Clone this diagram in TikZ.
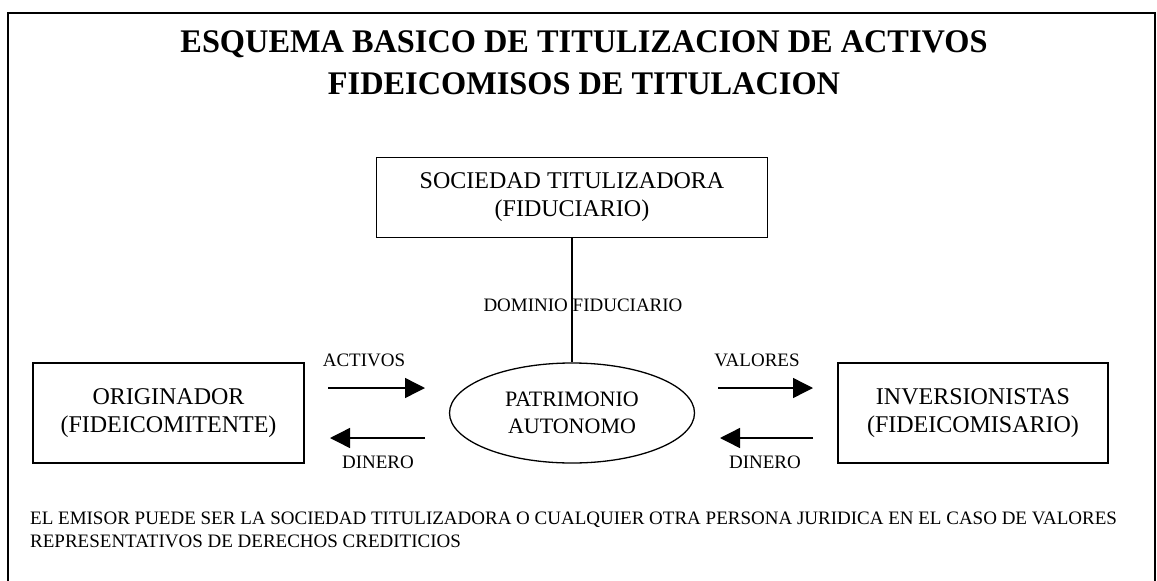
\documentclass[tikz,border=0pt]{standalone}
\usepackage{fontspec}
\setmainfont{Liberation Serif}
\usetikzlibrary{shapes.geometric,arrows.meta}
\tikzset{
  boxed/.style={draw, line width=1.6pt, minimum width=#1, minimum height=100pt, inner sep=0pt, align=center, font=\fontsize{24}{28}\selectfont},
  lbl/.style={inner sep=0pt, font=\fontsize{19}{22}\selectfont},
  flow/.style={line width=1.4pt, -{Triangle[length=20pt,width=20pt]}},
  ttl/.style={inner sep=0pt, font=\bfseries\fontsize{33}{40}\selectfont, xscale=0.98},
  foot/.style={inner sep=0pt, anchor=west, font=\fontsize{19}{21}\selectfont},
}
\begin{document}
\begin{tikzpicture}[x=1pt,y=-1pt]
\useasboundingbox (0,0) rectangle (1157,581);
% frame
\draw[line width=1.6pt] (8,581) -- (8,13) -- (1155,13) -- (1155,581);
% title
\node[ttl] (t1) at (584,44) {ESQUEMA BASICO DE TITULIZACION DE ACTIVOS};
\node[ttl] (t2) at (584,84) {FIDEICOMISOS DE TITULACION};
% boxes
\node[boxed=391pt, minimum height=80pt] (soc) at (572,197.5) {SOCIEDAD TITULIZADORA\\(FIDUCIARIO)};
\node[boxed=271pt] (ori) at (168.5,413) {ORIGINADOR\\(FIDEICOMITENTE)};
\node[boxed=270pt] (inv) at (973,413) {INVERSIONISTAS\\(FIDEICOMISARIO)};
\node[draw, ellipse, line width=1.3pt, minimum width=245pt, minimum height=100pt, inner sep=0pt, align=center, font=\fontsize{22}{27}\selectfont] (pat) at (572,413) {PATRIMONIO\\AUTONOMO};
% domain label and line
\node[lbl] (dom) at (583,305) {DOMINIO FIDUCIARIO};
\draw[line width=1.2pt] (soc.south -| pat.north) -- (pat.north);
% arrows
\coordinate (a1s) at (328,388); \coordinate (a1e) at (425,388);
\coordinate (a2s) at (425,438); \coordinate (a2e) at (330,438);
\coordinate (a3s) at (718,388); \coordinate (a3e) at (813,388);
\coordinate (a4s) at (813,438); \coordinate (a4e) at (720,438);
\draw[flow] (a1s) -- (a1e);
\draw[flow] (a2s) -- (a2e);
\draw[flow] (a3s) -- (a3e);
\draw[flow] (a4s) -- (a4e);
\node[lbl] (act) at (364,360) {ACTIVOS};
\node[lbl] (din1) at (378,462) {DINERO};
\node[lbl] (val) at (757,360) {VALORES};
\node[lbl] (din2) at (765,462) {DINERO};
% footer
\node[foot] (f1) at (30,520) {EL EMISOR PUEDE SER LA SOCIEDAD TITULIZADORA O CUALQUIER OTRA PERSONA JURIDICA EN EL CASO DE VALORES};
\node[foot] (f2) at (30,541) {REPRESENTATIVOS DE DERECHOS CREDITICIOS};
\end{tikzpicture}
\end{document}
